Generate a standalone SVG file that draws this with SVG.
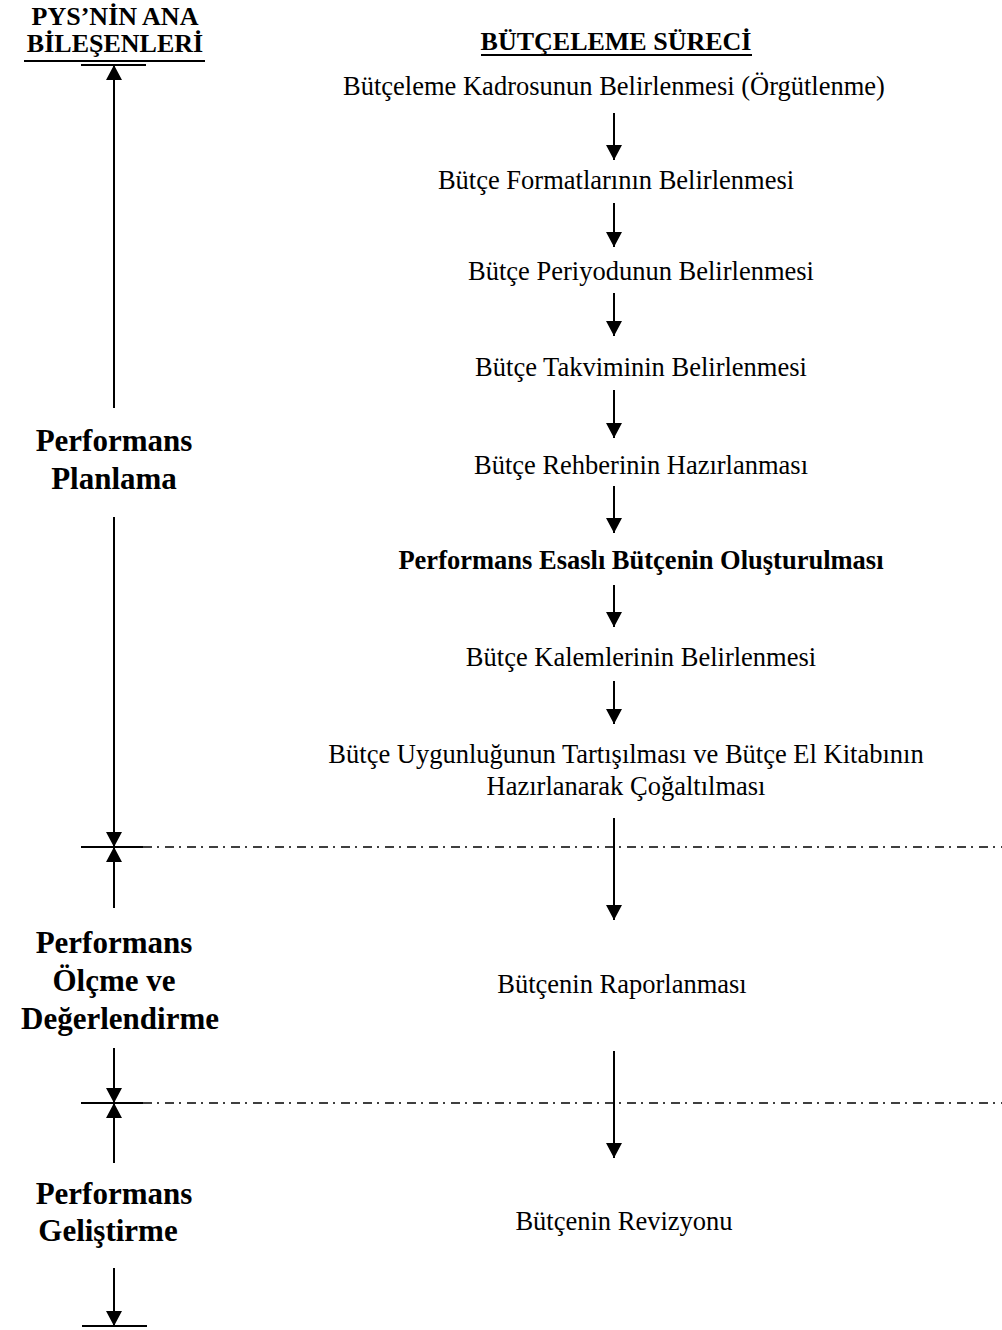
<svg xmlns="http://www.w3.org/2000/svg" width="1002" height="1330" viewBox="0 0 1002 1330">
  <defs>
    <!-- solid triangular arrowhead, tip at the end of the line -->
    <marker id="head" viewBox="0 0 15 16" refX="15" refY="8" markerWidth="15" markerHeight="16" markerUnits="userSpaceOnUse" orient="auto">
      <path d="M0,0 L15,8 L0,16 Z" fill="#000"/>
    </marker>
  </defs>
  <style>
    text { font-family: "Liberation Serif", "Times New Roman", serif; fill: #000; }
    .step { font-size: 26.5px; text-anchor: middle; }
    .bold { font-weight: bold; }
    .side { font-size: 31px; font-weight: bold; text-anchor: middle; }
    .head { font-size: 26px; font-weight: bold; text-anchor: middle; }
    .arrow { stroke: #000; stroke-width: 2; fill: none; marker-end: url(#head); }
    .rule { stroke: #000; stroke-width: 2; }
    .phase { stroke: #000; stroke-width: 1.5; stroke-dasharray: 9 5 2 6; fill: none; }
  </style>

  <rect width="1002" height="1330" fill="#fff"/>

  <!-- headings -->
  <g id="pys-heading">
    <text class="head" x="115" y="25">PYS’NİN ANA</text>
    <text class="head" x="115" y="52">BİLEŞENLERİ</text>
    <line class="rule" x1="24" y1="61" x2="205" y2="61" stroke-width="2.5"/>
  </g>
  <g id="process-heading">
    <text class="head" x="616" y="50">BÜTÇELEME SÜRECİ</text>
    <line class="rule" x1="481" y1="55" x2="752" y2="55"/>
  </g>

  <!-- process steps -->
  <g id="step-1"><text class="step" x="614" y="95">Bütçeleme Kadrosunun Belirlenmesi (Örgütlenme)</text></g>
  <g id="step-2"><text class="step" x="616" y="189">Bütçe Formatlarının Belirlenmesi</text></g>
  <g id="step-3"><text class="step" x="641" y="280">Bütçe Periyodunun Belirlenmesi</text></g>
  <g id="step-4"><text class="step" x="641" y="376">Bütçe Takviminin Belirlenmesi</text></g>
  <g id="step-5"><text class="step" x="641" y="474">Bütçe Rehberinin Hazırlanması</text></g>
  <g id="step-6"><text class="step bold" x="641" y="569">Performans Esaslı Bütçenin Oluşturulması</text></g>
  <g id="step-7"><text class="step" x="641" y="666">Bütçe Kalemlerinin Belirlenmesi</text></g>
  <g id="step-8">
    <text class="step" x="626" y="763">Bütçe Uygunluğunun Tartışılması ve Bütçe El Kitabının</text>
    <text class="step" x="626" y="795">Hazırlanarak Çoğaltılması</text>
  </g>
  <g id="step-9"><text class="step" x="622" y="993">Bütçenin Raporlanması</text></g>
  <g id="step-10"><text class="step" x="624" y="1230">Bütçenin Revizyonu</text></g>

  <!-- PYS components -->
  <g id="phase-planning">
    <text class="side" x="114" y="451">Performans</text>
    <text class="side" x="114" y="489">Planlama</text>
  </g>
  <g id="phase-measurement">
    <text class="side" x="114" y="953">Performans</text>
    <text class="side" x="114" y="991">Ölçme ve</text>
    <text class="side" x="120" y="1029">Değerlendirme</text>
  </g>
  <g id="phase-improvement">
    <text class="side" x="114" y="1204">Performans</text>
    <text class="side" x="108" y="1241">Geliştirme</text>
  </g>

  <!-- connectors -->
  <g id="connectors">
    <!-- process flow -->
    <line class="arrow" x1="614" y1="113" x2="614" y2="160"/>
    <line class="arrow" x1="614" y1="203" x2="614" y2="247"/>
    <line class="arrow" x1="614" y1="293" x2="614" y2="336"/>
    <line class="arrow" x1="614" y1="390" x2="614" y2="438"/>
    <line class="arrow" x1="614" y1="486" x2="614" y2="533"/>
    <line class="arrow" x1="614" y1="585" x2="614" y2="627"/>
    <line class="arrow" x1="614" y1="681" x2="614" y2="724"/>
    <line class="arrow" x1="614" y1="818" x2="614" y2="920"/>
    <line class="arrow" x1="614" y1="1051" x2="614" y2="1158"/>

    <!-- phase extents -->
    <line class="rule" x1="81" y1="65" x2="146" y2="65"/>
    <line class="arrow" x1="114" y1="408" x2="114" y2="65"/>
    <line class="arrow" x1="114" y1="517" x2="114" y2="847"/>
    <line class="rule" x1="81" y1="847" x2="143" y2="847"/>
    <line class="arrow" x1="114" y1="908" x2="114" y2="847"/>
    <line class="arrow" x1="114" y1="1048" x2="114" y2="1103"/>
    <line class="rule" x1="81" y1="1103" x2="143" y2="1103"/>
    <line class="arrow" x1="114" y1="1163" x2="114" y2="1103"/>
    <line class="arrow" x1="114" y1="1268" x2="114" y2="1326"/>
    <line class="rule" x1="82" y1="1326" x2="147" y2="1326"/>

    <!-- phase boundaries -->
    <line class="phase" x1="143" y1="847" x2="1002" y2="847"/>
    <line class="phase" x1="143" y1="1103" x2="1002" y2="1103"/>
  </g>
</svg>
